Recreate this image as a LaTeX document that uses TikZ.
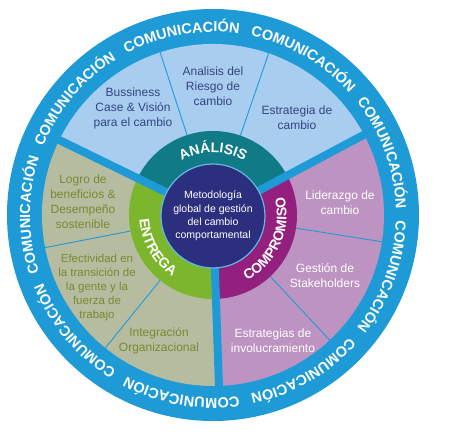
\documentclass[tikz,border=0pt]{standalone}
\usepackage{fontspec}
\setmainfont{Liberation Sans}
\usetikzlibrary{decorations.text}
\definecolor{combg}{HTML}{1E9BD7}
\definecolor{anafill}{HTML}{A9CDEF}
\definecolor{entfill}{HTML}{B5BC9F}
\definecolor{compfill}{HTML}{BD93C1}
\definecolor{anaring}{HTML}{107A86}
\definecolor{entring}{HTML}{7CB62D}
\definecolor{compring}{HTML}{931F7E}
\definecolor{corefill}{HTML}{2C2F7D}
\definecolor{anatxt}{HTML}{33457E}
\definecolor{enttxt}{HTML}{7A8932}
\tikzset{%
	gap/.style={draw=combg, line width=8pt},
	divider/.style={draw=combg, line width=0.9pt},
	core/.style={circle, fill=corefill, draw=combg!70!white, line width=1.2pt,%
		minimum size=104pt, inner sep=0pt, align=center, text=white,%
		font=\fontsize{10.5}{13.3}\selectfont},
	sect/.style={align=center, font=\fontsize{12}{15}\selectfont, inner sep=0pt},
	anatext/.style={sect, text=anatxt},
	enttext/.style={sect, text=enttxt},
	comptext/.style={sect, text=white},
	commtext/.style={decorate, decoration={text along path, text align=center,%
		text color=white, text={|\bfseries\fontsize{14.5}{14.5}\selectfont|COMUNICACIÓN}}},
	ringtext/.style={decorate, decoration={text along path, text align=center,%
		text color=white, text={|\bfseries\fontsize{14}{14}\selectfont|#1}}}
}
\begin{document}
\begin{tikzpicture}[x=1pt, y=1pt]
	\useasboundingbox (-213,-227) rectangle (240,215);
	\fill[combg] (0,0) circle (206);

	\fill[anafill] (0,0) -- (28:171) arc[start angle=28, end angle=154, radius=171] -- cycle;
	\fill[entfill] (0,0) -- (154:171) arc[start angle=154, end angle=272, radius=171] -- cycle;
	\fill[compfill] (0,0) -- (-88:171) arc[start angle=-88, end angle=28, radius=171] -- cycle;
	\foreach \a in {71,108,191,231,-9,-47}
		\draw[divider] (\a:84) -- (\a:171);

	\fill[anaring] (0,0) -- (28:84) arc[start angle=28, end angle=154, radius=84] -- cycle;
	\fill[entring] (0,0) -- (154:84) arc[start angle=154, end angle=272, radius=84] -- cycle;
	\fill[compring] (0,0) -- (-88:84) arc[start angle=-88, end angle=28, radius=84] -- cycle;
	\foreach \a in {28,154,272}
		\draw[gap] (0,0) -- (\a:172);

	\node[core] (core) at (0,-1) {Metodología\\global de gestión\\del cambio\\comportamental};

	\foreach \a in {20,60,...,340}
		\path[commtext] (\a+28:183) arc[start angle=\a+28, end angle=\a-28, radius=183];
	\path[ringtext={ANÁLISIS}] (150:62.5) arc[start angle=150, end angle=30, radius=62.5];
	\path[ringtext={ENTREGA}] (150:73.5) arc[start angle=150, end angle=270, radius=73.5];
	\path[ringtext={COMPROMISO}] (-84:73.5) arc[start angle=-84, end angle=36, radius=73.5];

	\node[anatext] (bcase) at (-80,107) {Bussiness\\Case \& Visión\\para el cambio};
	\node[anatext] (riesgo) at (0,129) {Analisis del\\Riesgo de\\cambio};
	\node[anatext] (estrat) at (84,97.5) {Estrategia de\\cambio};
	\node[enttext] (logro) at (-130,13) {Logro de\\beneficios \&\\Desempeño\\sostenible};
	\node[enttext, font=\fontsize{11.5}{14}\selectfont] (efect) at (-116,-72.5)
		{Efectividad en\\la transición de\\la gente y la\\fuerza de\\trabajo};
	\node[enttext] (integ) at (-54,-125.5) {Integración\\Organizacional};
	\node[comptext] (lider) at (127,12.5) {Liderazgo de\\cambio};
	\node[comptext] (stake) at (112,-60.5) {Gestión de\\Stakeholders};
	\node[comptext] (involuc) at (60,-125.5) {Estrategias de\\involucramiento};
\end{tikzpicture}
\end{document}
